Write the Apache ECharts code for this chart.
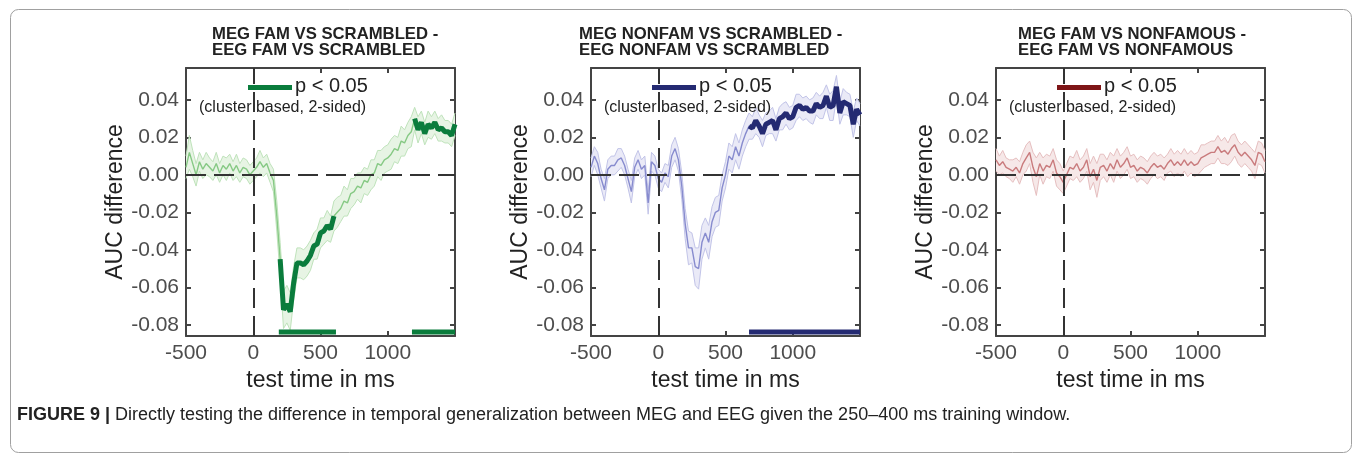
<!DOCTYPE html>
<html>
<head>
<meta charset="utf-8">
<script src="https://cdn.jsdelivr.net/npm/echarts@6/dist/echarts.min.js"></script>
<style>
  html, body { margin: 0; padding: 0; background: #fff; }
  #chart-container { width: 1357px; height: 457px; }
</style>
</head>
<body>
<div id="chart-container"></div>
<script>
// test time in ms, 25 ms steps
var times = [-500, -475, -450, -425, -400, -375, -350, -325, -300, -275, -250, -225, -200, -175, -150, -125, -100, -75, -50, -25,
  0, 25, 50, 75, 100, 125, 150, 175, 200, 225, 250, 275, 300, 325, 350, 375, 400, 425, 450, 475,
  500, 525, 550, 575, 600, 625, 650, 675, 700, 725, 750, 775, 800, 825, 850, 875, 900, 925, 950, 975,
  1000, 1025, 1050, 1075, 1100, 1125, 1150, 1175, 1200, 1225, 1250, 1275, 1300, 1325, 1350, 1375, 1400, 1425, 1450, 1475, 1500];

var xTicks = [-500, 0, 500, 1000, 1500];
var xLabels = [-500, 0, 500, 1000];
var yTicks = [-0.08, -0.06, -0.04, -0.02, 0, 0.02, 0.04];

// MEG fam vs scrambled - EEG fam vs scrambled
var meanFamScr = [0.004, 0.012, 0.006, 0.000, 0.007, 0.003, 0.006, 0.004, 0.002, 0.006, 0.001, 0.005, 0.003, 0.006, 0.002, 0.005, 0.001, 0.004, 0.003, 0.000,
  0.002, 0.004, 0.007, 0.004, 0.006, 0.001, -0.003, -0.022, -0.045, -0.072, -0.069, -0.073, -0.058, -0.047, -0.047, -0.048, -0.046, -0.043, -0.038, -0.037,
  -0.031, -0.030, -0.027, -0.029, -0.022, -0.020, -0.018, -0.014, -0.015, -0.010, -0.009, -0.006, -0.007, -0.003, -0.004, 0.000, 0.001, 0.006, 0.005, 0.008,
  0.009, 0.011, 0.014, 0.013, 0.018, 0.017, 0.021, 0.023, 0.030, 0.024, 0.028, 0.022, 0.027, 0.025, 0.028, 0.024, 0.025, 0.023, 0.023, 0.021, 0.027];
var semFamScr = [0.006, 0.009, 0.007, 0.006, 0.005, 0.005, 0.006, 0.005, 0.005, 0.006, 0.005, 0.005, 0.006, 0.005, 0.005, 0.006, 0.005, 0.005, 0.005, 0.005,
  0.005, 0.005, 0.006, 0.005, 0.005, 0.005, 0.006, 0.008, 0.009, 0.010, 0.010, 0.010, 0.009, 0.008, 0.008, 0.008, 0.008, 0.008, 0.007, 0.008,
  0.008, 0.007, 0.008, 0.007, 0.008, 0.008, 0.007, 0.008, 0.007, 0.008, 0.007, 0.007, 0.008, 0.007, 0.007, 0.008, 0.007, 0.007, 0.008, 0.007,
  0.007, 0.008, 0.007, 0.007, 0.008, 0.007, 0.007, 0.008, 0.006, 0.007, 0.006, 0.006, 0.007, 0.006, 0.006, 0.006, 0.007, 0.006, 0.006, 0.006, 0.006];
var sigFamScr = [[190, 615], [1180, 1500]];

// MEG nonfam vs scrambled - EEG nonfam vs scrambled
var meanNonScr = [0.004, 0.010, 0.006, -0.002, -0.008, 0.003, 0.005, 0.005, 0.008, 0.009, 0.005, -0.002, -0.009, 0.004, 0.008, 0.003, 0.005, -0.015, 0.007, 0.005,
  -0.002, -0.004, 0.001, -0.001, 0.010, 0.014, 0.008, -0.006, -0.026, -0.039, -0.039, -0.049, -0.050, -0.036, -0.031, -0.036, -0.025, -0.020, -0.019, -0.007,
  0.000, 0.010, 0.008, 0.015, 0.010, 0.017, 0.022, 0.026, 0.025, 0.029, 0.026, 0.022, 0.027, 0.028, 0.029, 0.024, 0.030, 0.031, 0.033, 0.030,
  0.031, 0.036, 0.037, 0.035, 0.036, 0.034, 0.034, 0.038, 0.036, 0.037, 0.042, 0.036, 0.037, 0.047, 0.033, 0.039, 0.038, 0.037, 0.027, 0.035, 0.032];
var semNonScr = [0.005, 0.005, 0.006, 0.005, 0.006, 0.005, 0.005, 0.005, 0.006, 0.005, 0.005, 0.005, 0.006, 0.005, 0.005, 0.005, 0.005, 0.006, 0.005, 0.005,
  0.005, 0.005, 0.005, 0.006, 0.006, 0.006, 0.006, 0.007, 0.008, 0.009, 0.008, 0.010, 0.011, 0.009, 0.008, 0.009, 0.008, 0.008, 0.008, 0.007,
  0.007, 0.007, 0.007, 0.007, 0.007, 0.007, 0.007, 0.007, 0.006, 0.007, 0.006, 0.007, 0.006, 0.006, 0.007, 0.006, 0.006, 0.007, 0.006, 0.006,
  0.006, 0.007, 0.006, 0.006, 0.006, 0.006, 0.007, 0.006, 0.006, 0.007, 0.006, 0.007, 0.008, 0.006, 0.006, 0.007, 0.006, 0.006, 0.007, 0.006, 0.006];
var sigNonScr = [[675, 1500]];

// MEG fam vs nonfamous - EEG fam vs nonfamous
var meanFamNon = [0.008, 0.005, 0.007, 0.004, 0.003, 0.002, 0.004, 0.001, 0.006, 0.009, 0.012, 0.004, -0.001, 0.006, 0.002, 0.005, 0.004, 0.008, 0.001, -0.001,
  -0.004, 0.000, 0.004, 0.003, 0.006, 0.002, 0.004, 0.008, -0.001, 0.003, -0.003, 0.004, 0.005, 0.002, 0.006, 0.003, 0.008, 0.004, 0.006, 0.009,
  0.004, 0.005, 0.002, 0.004, 0.003, 0.001, 0.004, 0.006, 0.004, 0.005, 0.003, 0.006, 0.008, 0.005, 0.007, 0.005, 0.008, 0.005, 0.007, 0.005,
  0.006, 0.009, 0.010, 0.011, 0.012, 0.012, 0.015, 0.012, 0.013, 0.011, 0.014, 0.016, 0.012, 0.010, 0.012, 0.010, 0.008, 0.005, 0.012, 0.011, 0.007];
var semFamNon = [0.006, 0.005, 0.006, 0.005, 0.005, 0.006, 0.005, 0.006, 0.006, 0.007, 0.006, 0.008, 0.010, 0.006, 0.007, 0.006, 0.006, 0.006, 0.007, 0.007,
  0.006, 0.006, 0.006, 0.006, 0.007, 0.006, 0.006, 0.006, 0.007, 0.007, 0.009, 0.007, 0.006, 0.006, 0.006, 0.007, 0.006, 0.006, 0.006, 0.006,
  0.006, 0.006, 0.006, 0.006, 0.006, 0.006, 0.006, 0.006, 0.006, 0.006, 0.006, 0.005, 0.006, 0.006, 0.006, 0.006, 0.006, 0.006, 0.006, 0.006,
  0.006, 0.007, 0.006, 0.006, 0.006, 0.006, 0.006, 0.006, 0.007, 0.006, 0.007, 0.006, 0.006, 0.006, 0.006, 0.006, 0.006, 0.007, 0.006, 0.006, 0.006];
var sigFamNon = [];

var fontFamily = "'Liberation Sans', Arial, Helvetica, sans-serif";
var yMin = -0.086;
var yMax = 0.057;
var yBar = -0.0838;

var panels = [
  { title: "MEG FAM VS SCRAMBLED -\nEEG FAM VS SCRAMBLED", mean: meanFamScr, sem: semFamScr, sig: sigFamScr,
    dark: "#0a7c3c", light: "#86c984", edge: "#bfe3bb", fill: "#e7f4e4", left: 186, titleLeft: 212, legendLeft: 62 },
  { title: "MEG NONFAM VS SCRAMBLED -\nEEG NONFAM VS SCRAMBLED", mean: meanNonScr, sem: semNonScr, sig: sigNonScr,
    dark: "#242a72", light: "#878bce", edge: "#c2c4e8", fill: "#eaeaf7", left: 591, titleLeft: 579, legendLeft: 61 },
  { title: "MEG FAM VS NONFAMOUS -\nEEG FAM VS NONFAMOUS", mean: meanFamNon, sem: semFamNon, sig: sigFamNon,
    dark: "#7e1517", light: "#c97b7d", edge: "#e6bfc0", fill: "#f6e8e8", left: 996, titleLeft: 1018, legendLeft: 61 }
];

function inSig(t, sig) {
  return sig.some(function (r) { return t >= r[0] && t <= r[1]; });
}

// band polygon drawn once from the whole data of the series
function bandRenderer(fill) {
  return function (params, api) {
    if (params.dataIndex !== 0) return;
    var upper = [], lower = [];
    for (var k = 0; k < times.length; k++) {
      upper.push(api.coord([api.value(0, k), api.value(2, k)]));
      lower.push(api.coord([api.value(0, k), api.value(1, k)]));
    }
    return {
      type: "polygon",
      shape: { points: upper.concat(lower.reverse()) },
      style: { fill: fill },
      silent: true
    };
  };
}

var dom = document.getElementById("chart-container");
var myChart = echarts.init(dom, null, { renderer: "canvas" });

var grid = [], xAxis = [], yAxis = [], series = [], title = [], graphic = [];
var axisLineStyle = { color: "#444", width: 2 };

panels.forEach(function (p, i) {
  grid.push({ left: p.left, top: 68, width: 269, height: 268 });

  title.push({
    text: p.title, left: p.titleLeft, top: 26, padding: 0,
    textStyle: { fontFamily: fontFamily, fontWeight: "bold", fontSize: 16.7, lineHeight: 16, color: "#222" }
  });

  xAxis.push({
    gridIndex: i, type: "value", min: -500, max: 1500, interval: 500,
    axisLine: { onZero: false, lineStyle: axisLineStyle },
    axisTick: { inside: true, length: 5, lineStyle: axisLineStyle },
    axisLabel: {
      customValues: xLabels, fontFamily: fontFamily, fontSize: 21, color: "#4d4d4d", margin: 7,
      formatter: function (v) { return String(v); }
    },
    splitLine: { show: false },
    name: "test time in ms", nameLocation: "middle", nameGap: 28,
    nameTextStyle: { fontFamily: fontFamily, fontSize: 23, color: "#222" }
  });
  xAxis.push({
    gridIndex: i, type: "value", position: "top", min: -500, max: 1500, interval: 500,
    axisLine: { onZero: false, lineStyle: axisLineStyle },
    axisTick: { inside: true, length: 5, lineStyle: axisLineStyle },
    axisLabel: { show: false }, splitLine: { show: false }
  });
  yAxis.push({
    gridIndex: i, type: "value", min: yMin, max: yMax,
    axisLine: { onZero: false, lineStyle: axisLineStyle },
    axisTick: { inside: true, length: 5, customValues: yTicks, lineStyle: axisLineStyle },
    axisLabel: {
      customValues: yTicks, fontFamily: fontFamily, fontSize: 21, color: "#4d4d4d", margin: 7,
      formatter: function (v) { return v.toFixed(2); }
    },
    splitLine: { show: false },
    name: "AUC difference", nameLocation: "middle", nameGap: 57, nameRotate: 90,
    nameTextStyle: { fontFamily: fontFamily, fontSize: 23, color: "#222" }
  });
  yAxis.push({
    gridIndex: i, type: "value", position: "right", min: yMin, max: yMax,
    axisLine: { onZero: false, lineStyle: axisLineStyle },
    axisTick: { inside: true, length: 5, customValues: yTicks, lineStyle: axisLineStyle },
    axisLabel: { show: false }, splitLine: { show: false }
  });

  var xi = 2 * i, yi = 2 * i;
  var bandData = times.map(function (t, k) { return [t, p.mean[k] - p.sem[k], p.mean[k] + p.sem[k]]; });
  var lowerData = bandData.map(function (d) { return [d[0], d[1]]; });
  var upperData = bandData.map(function (d) { return [d[0], d[2]]; });
  var meanData = times.map(function (t, k) { return [t, p.mean[k]]; });
  var sigData = times.map(function (t, k) { return inSig(t, p.sig) ? [t, p.mean[k]] : [t, "-"]; });
  var barData = [];
  p.sig.forEach(function (r) {
    barData.push([r[0], yBar], [r[1], yBar], [r[1], "-"]);
  });

  // SEM band
  series.push({
    type: "custom", xAxisIndex: xi, yAxisIndex: yi, data: bandData,
    encode: { x: 0, y: [1, 2] }, renderItem: bandRenderer(p.fill), silent: true, z: 1
  });
  series.push({
    type: "line", xAxisIndex: xi, yAxisIndex: yi, data: lowerData, symbol: "none",
    lineStyle: { color: p.edge, width: 1 }, silent: true, z: 1
  });
  series.push({
    type: "line", xAxisIndex: xi, yAxisIndex: yi, data: upperData, symbol: "none",
    lineStyle: { color: p.edge, width: 1 }, silent: true, z: 1
  });
  // mean
  series.push({
    type: "line", xAxisIndex: xi, yAxisIndex: yi, data: meanData, symbol: "none",
    lineStyle: { color: p.light, width: 1.4 }, silent: true, z: 2,
    markLine: {
      silent: true, symbol: ["none", "none"], label: { show: false },
      lineStyle: { color: "#333", width: 2, type: [20, 8] },
      data: [{ yAxis: 0 }, { xAxis: 0 }]
    }
  });
  // significant stretch
  series.push({
    type: "line", xAxisIndex: xi, yAxisIndex: yi, data: sigData, symbol: "none",
    lineStyle: { color: p.dark, width: 5 }, silent: true, z: 4
  });
  series.push({
    type: "line", xAxisIndex: xi, yAxisIndex: yi, data: barData, symbol: "none",
    lineStyle: { color: p.dark, width: 5, cap: "butt" }, silent: true, z: 4
  });

  // legend
  graphic.push({
    type: "rect", left: p.left + p.legendLeft, top: 85, shape: { width: 44, height: 5 },
    style: { fill: p.dark }, z: 10
  });
  graphic.push({
    type: "text", left: p.left + p.legendLeft + 47, top: 76,
    style: { text: "p < 0.05", font: "20px " + fontFamily, fill: "#222" }, z: 10
  });
  graphic.push({
    type: "text", left: p.left + 13, top: 100,
    style: { text: "(cluster based, 2-sided)", font: "16px " + fontFamily, fill: "#222" }, z: 10
  });
});

// figure frame and caption
graphic.push({
  type: "rect", left: 8, top: 7, shape: { width: 1341, height: 443, r: 8 },
  style: { fill: "none", stroke: "#a0a0a0", lineWidth: 1 }, z: 0
});
graphic.push({
  type: "text", left: 17, top: 406,
  style: {
    text: "{b|FIGURE 9 |} Directly testing the difference in temporal generalization between MEG and EEG given the 250–400 ms training window.",
    font: "18px " + fontFamily, fill: "#222",
    rich: { b: { fontWeight: "bold", fontSize: 18, fontFamily: fontFamily, fill: "#222" } }
  }, z: 10
});

var option = {
  animation: false,
  backgroundColor: "#fff",
  title: title,
  grid: grid,
  xAxis: xAxis,
  yAxis: yAxis,
  series: series,
  graphic: graphic
};

myChart.setOption(option);
window.addEventListener("resize", myChart.resize);
</script>
</body>
</html>
